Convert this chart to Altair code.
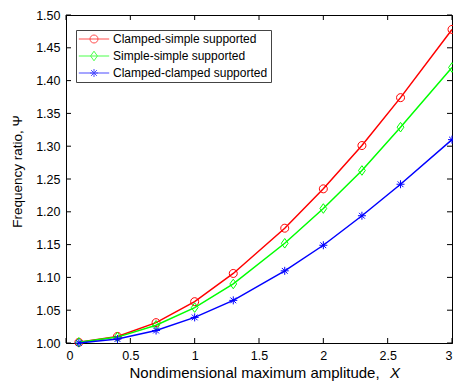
import altair as alt
import pandas as pd

# ---- data ----
x_vals = [0.1, 0.4, 0.7, 1.0, 1.3, 1.7, 2.0, 2.3, 2.6, 3.0]
clamped_simple = [1.001, 1.010, 1.031, 1.063, 1.106, 1.175, 1.235, 1.301, 1.374, 1.478]
simple_simple = [1.001, 1.009, 1.027, 1.054, 1.090, 1.152, 1.205, 1.263, 1.329, 1.420]
clamped_clamped = [1.000, 1.006, 1.019, 1.039, 1.065, 1.110, 1.149, 1.194, 1.242, 1.310]
series_names = ["Clamped-simple supported", "Simple-simple supported", "Clamped-clamped supported"]
series_values = [clamped_simple, simple_simple, clamped_clamped]
x_ticks = [0, 0.5, 1, 1.5, 2, 2.5, 3]
y_ticks = [1.00, 1.05, 1.10, 1.15, 1.20, 1.25, 1.30, 1.35, 1.40, 1.45, 1.50]

# ---- styles ----
colors = ["#ff0000", "#00ff00", "#0000ff"]
circle_p = "M1,0A1,1,0,1,1,-1,0A1,1,0,1,1,1,0"
diamond_p = "M0,-1.2L0.85,0L0,1.2L-0.85,0Z"
star_p = "M-1,0H1M0,-1V1M-0.72,-0.72L0.72,0.72M-0.72,0.72L0.72,-0.72"
marker_paths = [circle_p, diamond_p, star_p]
legend_paths = [
    "M-3.8,0H3.8" + circle_p,
    "M-3.8,0H3.8" + diamond_p,
    "M-3.8,0H3.8" + star_p,
]

W, H = 386, 328
FONT = "Liberation Sans"

rows = []
for name, vals in zip(series_names, series_values):
    for xv, yv in zip(x_vals, vals):
        rows.append({"x": xv, "y": yv, "series": name})
df = pd.DataFrame(rows)

xscale = alt.Scale(domain=[0, 3], nice=False, zero=False)
yscale = alt.Scale(domain=[1.0, 1.5], nice=False, zero=False)

xaxis = alt.Axis(values=x_ticks, format="~g", ticks=False, grid=False,
                 labelPadding=6, title="Nondimensional maximum amplitude,  ",
                 titleFontWeight="normal", titleFontSize=15, titlePadding=4,
                 titleAnchor="start", titleX=63, titleAlign="left",
                 labelFontSize=12.5)
yaxis = alt.Axis(values=y_ticks, format=".2f", ticks=False, grid=False,
                 labelPadding=6, title="Frequency ratio, \u03a8", labelOverlap=False,
                 titleFontWeight="normal", titleFontSize=13.5, titlePadding=11,
                 titleY=156, labelFontSize=12.5)
xenc = alt.X("x:Q", scale=xscale, axis=xaxis)
yenc = alt.Y("y:Q", scale=yscale, axis=yaxis)

layers = []
for name, col, mp in zip(series_names, colors, marker_paths):
    sub = alt.Chart(df).transform_filter(alt.datum.series == name)
    layers.append(sub.mark_line(color=col, strokeWidth=1.5).encode(x=xenc, y=yenc))
    layers.append(sub.mark_point(shape=mp, filled=False, color=col, size=64,
                                 strokeWidth=1, opacity=1).encode(x=xenc, y=yenc))

# legend-only layer (no marks drawn)
legend_layer = alt.Chart(df).transform_filter("false").mark_point(filled=False).encode(
    x=alt.X("x:Q", scale=xscale, axis=xaxis),
    y=alt.Y("y:Q", scale=yscale, axis=yaxis),
    color=alt.Color("series:N", scale=alt.Scale(domain=series_names, range=colors),
                    legend=alt.Legend(title=None, orient="none", legendX=10, legendY=15,
                                      fillColor="white", strokeColor="#444", padding=3,
                                      symbolSize=64, symbolStrokeWidth=1, symbolOffset=9,
                                      labelOffset=13, labelFontSize=12, labelFont=FONT,
                                      labelColor="black",
                                      labelExpr="datum.label + '\u00a0\u00a0\u00a0'",
                                      rowPadding=4, cornerRadius=0)),
    shape=alt.Shape("series:N", scale=alt.Scale(domain=series_names, range=legend_paths)),
)

# inside ticks
xt = pd.DataFrame({"t": x_ticks})
yt = pd.DataFrame({"t": y_ticks})
tick_style = dict(color="black", strokeWidth=1)
bottom_ticks = alt.Chart(xt).mark_rule(**tick_style).encode(
    x=alt.X("t:Q", scale=xscale, axis=xaxis), y=alt.value(H), y2=alt.value(H - 5))
top_ticks = alt.Chart(xt).mark_rule(**tick_style).encode(
    x=alt.X("t:Q", scale=xscale, axis=xaxis), y=alt.value(0), y2=alt.value(5))
left_ticks = alt.Chart(yt).mark_rule(**tick_style).encode(
    y=alt.Y("t:Q", scale=yscale, axis=yaxis), x=alt.value(0), x2=alt.value(5))
right_ticks = alt.Chart(yt).mark_rule(**tick_style).encode(
    y=alt.Y("t:Q", scale=yscale, axis=yaxis), x=alt.value(W), x2=alt.value(W - 5))

# italic X of the x-axis title
x_italic = alt.Chart(pd.DataFrame({"s": ["X"]})).mark_text(
    font=FONT, fontSize=15, fontStyle="italic", align="left", baseline="alphabetic",
    color="black").encode(text="s:N", x=alt.value(324), y=alt.value(H + 35))

chart = alt.layer(legend_layer, *layers, bottom_ticks, top_ticks, left_ticks, right_ticks,
                  x_italic).properties(
    width=W, height=H,
    autosize=alt.AutoSizeParams(type="none"),
    padding={"left": 66, "top": 15, "right": 1, "bottom": 41},
    background="white",
).configure_view(stroke="black", strokeWidth=1).configure_axis(
    labelFont=FONT, titleFont=FONT, labelFontSize=12.5, titleFontSize=13,
    labelColor="black", titleColor="black", domainColor="black", domainWidth=1,
).configure_text(font=FONT)

chart.save("out.html", embed_options={"renderer": "svg", "actions": False})
